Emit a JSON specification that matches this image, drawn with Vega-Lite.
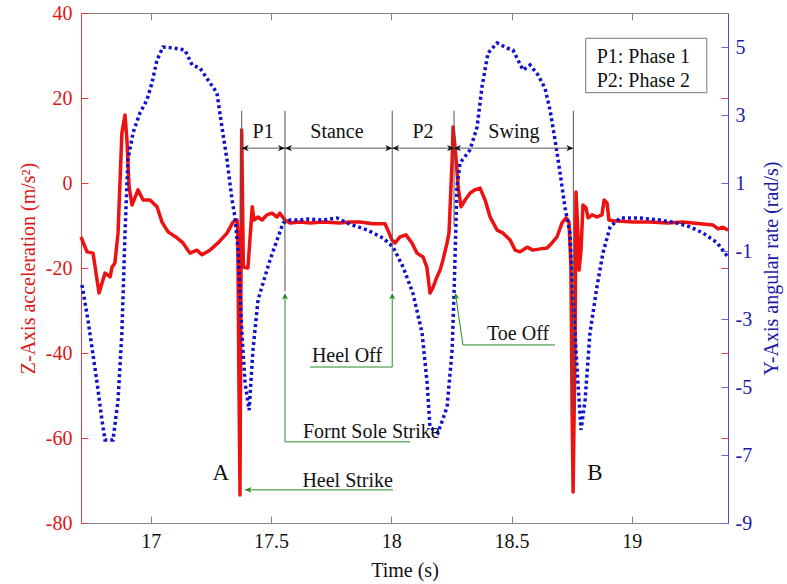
{
  "$schema": "https://vega.github.io/schema/vega-lite/v6.json",
  "width": 647,
  "height": 510,
  "autosize": {"type": "none"},
  "padding": {"left": 81, "top": 13, "right": 59, "bottom": 61},
  "background": "white",
  "config": {
    "font": "Liberation Serif",
    "view": {"stroke": null},
    "axis": {"grid": false, "labelFont": "Liberation Serif", "titleFont": "Liberation Serif", "titleFontWeight": "normal", "labelFontSize": 20, "titleFontSize": 20}
  },
  "datasets": {
    "red": [
      {"t": 16.710, "acc": -12.7}, {"t": 16.735, "acc": -16.2}, {"t": 16.760, "acc": -16.5}, {"t": 16.785, "acc": -25.9},
      {"t": 16.810, "acc": -21.2}, {"t": 16.831, "acc": -22.1}, {"t": 16.839, "acc": -19.8}, {"t": 16.851, "acc": -18.8},
      {"t": 16.864, "acc": -11.8}, {"t": 16.880, "acc": 11.8}, {"t": 16.893, "acc": 16.0}, {"t": 16.901, "acc": 10.1},
      {"t": 16.910, "acc": -0.9}, {"t": 16.922, "acc": -5.2}, {"t": 16.935, "acc": -3.3}, {"t": 16.947, "acc": -1.6},
      {"t": 16.968, "acc": -4.0}, {"t": 16.997, "acc": -4.0}, {"t": 17.026, "acc": -5.6}, {"t": 17.047, "acc": -9.2},
      {"t": 17.072, "acc": -11.5}, {"t": 17.109, "acc": -12.9}, {"t": 17.134, "acc": -14.1}, {"t": 17.163, "acc": -16.5},
      {"t": 17.192, "acc": -15.8}, {"t": 17.213, "acc": -16.9}, {"t": 17.246, "acc": -15.8}, {"t": 17.280, "acc": -14.1},
      {"t": 17.317, "acc": -11.8}, {"t": 17.342, "acc": -9.2}, {"t": 17.359, "acc": -8.7}, {"t": 17.362, "acc": -11.8},
      {"t": 17.366, "acc": -43.3}, {"t": 17.371, "acc": -73.4}, {"t": 17.378, "acc": 12.5}, {"t": 17.385, "acc": -19.8},
      {"t": 17.404, "acc": -20.0}, {"t": 17.422, "acc": -5.6}, {"t": 17.429, "acc": -8.7}, {"t": 17.446, "acc": -8.0},
      {"t": 17.463, "acc": -8.7}, {"t": 17.483, "acc": -7.5}, {"t": 17.504, "acc": -7.1}, {"t": 17.525, "acc": -8.0},
      {"t": 17.537, "acc": -7.1}, {"t": 17.558, "acc": -8.7}, {"t": 17.579, "acc": -9.4}, {"t": 17.621, "acc": -9.2},
      {"t": 17.662, "acc": -9.4}, {"t": 17.716, "acc": -9.2}, {"t": 17.787, "acc": -9.4}, {"t": 17.828, "acc": -9.2},
      {"t": 17.870, "acc": -9.2}, {"t": 17.924, "acc": -9.6}, {"t": 17.974, "acc": -9.6}, {"t": 17.986, "acc": -11.1},
      {"t": 18.003, "acc": -13.4}, {"t": 18.016, "acc": -14.1}, {"t": 18.036, "acc": -12.7}, {"t": 18.061, "acc": -12.2},
      {"t": 18.086, "acc": -14.1}, {"t": 18.107, "acc": -16.5}, {"t": 18.132, "acc": -17.4}, {"t": 18.148, "acc": -19.8},
      {"t": 18.161, "acc": -25.9}, {"t": 18.174, "acc": -24.5}, {"t": 18.190, "acc": -22.1}, {"t": 18.203, "acc": -20.5},
      {"t": 18.215, "acc": -18.1}, {"t": 18.232, "acc": -14.1}, {"t": 18.240, "acc": -11.8}, {"t": 18.253, "acc": 5.4},
      {"t": 18.257, "acc": 13.2}, {"t": 18.269, "acc": 6.1}, {"t": 18.278, "acc": -0.9}, {"t": 18.290, "acc": -5.6},
      {"t": 18.307, "acc": -4.0}, {"t": 18.327, "acc": -2.4}, {"t": 18.348, "acc": -1.6}, {"t": 18.369, "acc": -1.2},
      {"t": 18.390, "acc": -4.0}, {"t": 18.411, "acc": -8.0}, {"t": 18.440, "acc": -11.1}, {"t": 18.465, "acc": -11.8},
      {"t": 18.494, "acc": -13.4}, {"t": 18.515, "acc": -15.8}, {"t": 18.535, "acc": -16.2}, {"t": 18.565, "acc": -15.1},
      {"t": 18.589, "acc": -15.8}, {"t": 18.619, "acc": -15.5}, {"t": 18.648, "acc": -15.3}, {"t": 18.668, "acc": -14.1},
      {"t": 18.689, "acc": -12.7}, {"t": 18.710, "acc": -9.4}, {"t": 18.727, "acc": -8.2}, {"t": 18.739, "acc": -9.2},
      {"t": 18.747, "acc": -19.8}, {"t": 18.752, "acc": -54.1}, {"t": 18.756, "acc": -72.7}, {"t": 18.764, "acc": -38.6},
      {"t": 18.768, "acc": -2.1}, {"t": 18.776, "acc": -11.8}, {"t": 18.781, "acc": -20.5}, {"t": 18.789, "acc": -15.8},
      {"t": 18.797, "acc": -5.2}, {"t": 18.810, "acc": -5.9}, {"t": 18.818, "acc": -8.2}, {"t": 18.835, "acc": -7.5},
      {"t": 18.855, "acc": -8.0}, {"t": 18.876, "acc": -7.5}, {"t": 18.885, "acc": -4.0}, {"t": 18.897, "acc": -4.7},
      {"t": 18.905, "acc": -8.7}, {"t": 18.922, "acc": -8.9}, {"t": 19.005, "acc": -9.2}, {"t": 19.076, "acc": -9.2},
      {"t": 19.147, "acc": -9.4}, {"t": 19.213, "acc": -9.2}, {"t": 19.284, "acc": -9.6}, {"t": 19.338, "acc": -9.9},
      {"t": 19.359, "acc": -10.8}, {"t": 19.379, "acc": -10.4}, {"t": 19.400, "acc": -11.1}
    ],
    "blue": [
      {"t": 16.714, "gyro": -2.0}, {"t": 16.739, "gyro": -3.03}, {"t": 16.777, "gyro": -4.88}, {"t": 16.797, "gyro": -5.97},
      {"t": 16.810, "gyro": -6.56}, {"t": 16.843, "gyro": -6.56}, {"t": 16.864, "gyro": -5.38}, {"t": 16.880, "gyro": -3.41},
      {"t": 16.893, "gyro": -0.47}, {"t": 16.905, "gyro": 1.68}, {"t": 16.926, "gyro": 2.47}, {"t": 16.955, "gyro": 3.06},
      {"t": 16.984, "gyro": 3.44}, {"t": 17.005, "gyro": 3.94}, {"t": 17.026, "gyro": 4.62}, {"t": 17.051, "gyro": 5.0},
      {"t": 17.093, "gyro": 4.97}, {"t": 17.142, "gyro": 4.91}, {"t": 17.172, "gyro": 4.47}, {"t": 17.205, "gyro": 4.38},
      {"t": 17.238, "gyro": 4.03}, {"t": 17.275, "gyro": 3.65}, {"t": 17.296, "gyro": 2.65}, {"t": 17.317, "gyro": 1.68},
      {"t": 17.338, "gyro": 0.5}, {"t": 17.350, "gyro": 0.0}, {"t": 17.363, "gyro": -0.97}, {"t": 17.379, "gyro": -3.41},
      {"t": 17.392, "gyro": -4.88}, {"t": 17.409, "gyro": -5.68}, {"t": 17.425, "gyro": -3.91}, {"t": 17.446, "gyro": -2.44},
      {"t": 17.467, "gyro": -1.94}, {"t": 17.496, "gyro": -1.26}, {"t": 17.525, "gyro": -0.68}, {"t": 17.550, "gyro": -0.18},
      {"t": 17.579, "gyro": -0.09}, {"t": 17.621, "gyro": -0.09}, {"t": 17.650, "gyro": -0.06}, {"t": 17.716, "gyro": -0.09},
      {"t": 17.774, "gyro": -0.03}, {"t": 17.828, "gyro": -0.21}, {"t": 17.899, "gyro": -0.38}, {"t": 17.966, "gyro": -0.62},
      {"t": 18.007, "gyro": -0.88}, {"t": 18.049, "gyro": -1.47}, {"t": 18.090, "gyro": -2.24}, {"t": 18.128, "gyro": -3.41},
      {"t": 18.149, "gyro": -4.88}, {"t": 18.161, "gyro": -6.18}, {"t": 18.194, "gyro": -6.35}, {"t": 18.232, "gyro": -5.59},
      {"t": 18.253, "gyro": -3.91}, {"t": 18.261, "gyro": -2.24}, {"t": 18.273, "gyro": 0.88}, {"t": 18.286, "gyro": 1.59},
      {"t": 18.327, "gyro": 1.97}, {"t": 18.357, "gyro": 2.65}, {"t": 18.377, "gyro": 3.82}, {"t": 18.402, "gyro": 4.82},
      {"t": 18.440, "gyro": 5.12}, {"t": 18.481, "gyro": 4.97}, {"t": 18.506, "gyro": 4.91}, {"t": 18.548, "gyro": 4.32},
      {"t": 18.577, "gyro": 4.47}, {"t": 18.610, "gyro": 4.18}, {"t": 18.639, "gyro": 3.79}, {"t": 18.660, "gyro": 3.15},
      {"t": 18.681, "gyro": 2.26}, {"t": 18.702, "gyro": 1.29}, {"t": 18.722, "gyro": 0.29}, {"t": 18.743, "gyro": -0.47},
      {"t": 18.756, "gyro": -2.44}, {"t": 18.772, "gyro": -4.41}, {"t": 18.789, "gyro": -6.26}, {"t": 18.806, "gyro": -5.38},
      {"t": 18.826, "gyro": -3.41}, {"t": 18.855, "gyro": -2.06}, {"t": 18.880, "gyro": -1.06}, {"t": 18.910, "gyro": -0.29},
      {"t": 18.951, "gyro": -0.03}, {"t": 19.034, "gyro": -0.03}, {"t": 19.117, "gyro": -0.09}, {"t": 19.188, "gyro": -0.18},
      {"t": 19.242, "gyro": -0.29}, {"t": 19.296, "gyro": -0.47}, {"t": 19.355, "gyro": -0.76}, {"t": 19.400, "gyro": -1.18}
    ],
    "vlines": [
      {"t": 17.378, "top": 17, "bottom": -10},
      {"t": 17.558, "top": 17, "bottom": -25.5},
      {"t": 18.004, "top": 17, "bottom": -25.5},
      {"t": 18.261, "top": 17, "bottom": -10},
      {"t": 18.757, "top": 17, "bottom": -54}
    ],
    "spans": [
      {"t1": 17.378, "t2": 17.558, "acc": 8.2, "mid": 17.467, "label": "P1"},
      {"t1": 17.558, "t2": 18.004, "acc": 8.2, "mid": 17.774, "label": "Stance"},
      {"t1": 18.004, "t2": 18.261, "acc": 8.2, "mid": 18.132, "label": "P2"},
      {"t1": 18.261, "t2": 18.757, "acc": 8.2, "mid": 18.510, "label": "Swing"}
    ],
    "greenlines": [
      {"t1": 17.392, "a1": -72.2, "t2": 18.007, "a2": -72.2},
      {"t1": 17.558, "a1": -26.5, "t2": 17.558, "a2": -60.9},
      {"t1": 17.558, "a1": -60.9, "t2": 18.078, "a2": -60.9},
      {"t1": 18.004, "a1": -26.5, "t2": 18.004, "a2": -43.3},
      {"t1": 17.662, "a1": -43.3, "t2": 18.004, "a2": -43.3},
      {"t1": 18.268, "a1": -26.5, "t2": 18.298, "a2": -38.1},
      {"t1": 18.298, "a1": -38.1, "t2": 18.681, "a2": -38.1}
    ],
    "greenUp": [
      {"t": 17.558, "acc": -25.9},
      {"t": 18.004, "acc": -25.9}
    ],
    "greenToe": [{"t": 18.267, "acc": -25.9}],
    "greenLeft": [{"t": 17.392, "acc": -72.2}],
    "notesLeft": [
      {"t": 17.633, "acc": -60.0, "label": "Fornt Sole Strike"},
      {"t": 17.670, "acc": -42.1, "label": "Heel Off"},
      {"t": 18.398, "acc": -36.9, "label": "Toe Off"}
    ],
    "notesRight": [{"t": 18.007, "acc": -71.5, "label": "Heel Strike"}],
    "points": [
      {"t": 17.291, "acc": -68.2, "label": "A"},
      {"t": 18.847, "acc": -68.2, "label": "B"}
    ],
    "legendBox": [{"t1": 18.8085, "t2": 19.312, "a1": 34.05, "a2": 21.25}],
    "legendText": [
      {"t": 18.854, "acc": 28.2, "label": "P1: Phase 1"},
      {"t": 18.854, "acc": 22.5, "label": "P2: Phase 2"}
    ]
  },
  "resolve": {"scale": {"y": "independent"}, "axis": {"x": "independent", "y": "independent"}},
  "layer": [
    {
      "data": {"name": "red"},
      "mark": {"type": "line", "color": "#ee1111", "strokeWidth": 3.5, "strokeJoin": "round"},
      "encoding": {
        "x": {"field": "t", "type": "quantitative", "scale": {"domain": [16.71, 19.4], "nice": false, "zero": false},
          "axis": {"orient": "bottom", "values": [17, 17.5, 18, 18.5, 19], "format": "~g", "title": "Time (s)", "domainColor": "#888888", "tickColor": "#888888", "tickSize": -7, "labelPadding": 15, "labelColor": "#111111", "titleColor": "#111111", "titlePadding": 9}},
        "y": {"field": "acc", "type": "quantitative", "scale": {"domain": [-80, 40], "nice": false, "zero": false},
          "axis": {"orient": "left", "values": [-80, -60, -40, -20, 0, 20, 40], "labelExpr": "'' + datum.value", "title": "Z-Axis acceleration (m/s²)", "domainColor": "#e04040", "tickColor": "#e04040", "tickSize": -7, "labelPadding": 16, "labelColor": "#e01515", "titleColor": "#e01515", "titlePadding": 7}}
      }
    },
    {
      "data": {"name": "blue"},
      "mark": {"type": "line", "color": "#1010d0", "strokeWidth": 3.5, "strokeDash": [3, 3], "strokeCap": "butt"},
      "encoding": {
        "x": {"field": "t", "type": "quantitative", "scale": {"domain": [16.71, 19.4], "nice": false, "zero": false},
          "axis": {"orient": "top", "values": [17, 17.5, 18, 18.5, 19], "labels": false, "title": null, "domainColor": "#888888", "tickColor": "#888888", "tickSize": -7}},
        "y": {"field": "gyro", "type": "quantitative", "scale": {"domain": [-9, 6], "nice": false, "zero": false},
          "axis": {"orient": "right", "values": [-9, -7, -5, -3, -1, 1, 3, 5], "labelExpr": "'' + datum.value", "title": "Y-Axis angular rate (rad/s)", "titleAngle": 270, "titleBaseline": "top", "domainColor": "#4a4ad8", "tickColor": "#6a6ae0", "tickSize": -7, "labelPadding": 14, "labelColor": "#1a1aa8", "titleColor": "#1a1aa8", "titlePadding": 10}}
      }
    },
    {
      "data": {"name": "vlines"},
      "mark": {"type": "rule", "color": "#555555", "strokeWidth": 1},
      "encoding": {
        "x": {"field": "t", "type": "quantitative", "scale": {"domain": [16.71, 19.4], "nice": false, "zero": false}, "axis": null},
        "y": {"field": "top", "type": "quantitative", "scale": {"domain": [-80, 40], "nice": false, "zero": false}, "axis": null},
        "y2": {"field": "bottom"}
      }
    },
    {
      "data": {"name": "spans"},
      "mark": {"type": "rule", "color": "#555555", "strokeWidth": 1},
      "encoding": {
        "x": {"field": "t1", "type": "quantitative", "scale": {"domain": [16.71, 19.4], "nice": false, "zero": false}, "axis": null},
        "x2": {"field": "t2"},
        "y": {"field": "acc", "type": "quantitative", "scale": {"domain": [-80, 40], "nice": false, "zero": false}, "axis": null}
      }
    },
    {
      "data": {"name": "spans"},
      "mark": {"type": "point", "shape": "M0,0L-1,-0.45L-0.7,0L-1,0.45Z", "filled": true, "color": "#111111", "size": 200, "angle": 180, "opacity": 1},
      "encoding": {
        "x": {"field": "t1", "type": "quantitative", "scale": {"domain": [16.71, 19.4], "nice": false, "zero": false}, "axis": null},
        "y": {"field": "acc", "type": "quantitative", "scale": {"domain": [-80, 40], "nice": false, "zero": false}, "axis": null}
      }
    },
    {
      "data": {"name": "spans"},
      "mark": {"type": "point", "shape": "M0,0L-1,-0.45L-0.7,0L-1,0.45Z", "filled": true, "color": "#111111", "size": 200, "angle": 0, "opacity": 1},
      "encoding": {
        "x": {"field": "t2", "type": "quantitative", "scale": {"domain": [16.71, 19.4], "nice": false, "zero": false}, "axis": null},
        "y": {"field": "acc", "type": "quantitative", "scale": {"domain": [-80, 40], "nice": false, "zero": false}, "axis": null}
      }
    },
    {
      "data": {"name": "spans"},
      "mark": {"type": "text", "fontSize": 20, "color": "#111111", "baseline": "middle", "align": "center", "dy": -16},
      "encoding": {
        "x": {"field": "mid", "type": "quantitative", "scale": {"domain": [16.71, 19.4], "nice": false, "zero": false}, "axis": null},
        "y": {"field": "acc", "type": "quantitative", "scale": {"domain": [-80, 40], "nice": false, "zero": false}, "axis": null},
        "text": {"field": "label"}
      }
    },
    {
      "data": {"name": "greenlines"},
      "mark": {"type": "rule", "color": "#2a8a2a", "strokeWidth": 1},
      "encoding": {
        "x": {"field": "t1", "type": "quantitative", "scale": {"domain": [16.71, 19.4], "nice": false, "zero": false}, "axis": null},
        "x2": {"field": "t2"},
        "y": {"field": "a1", "type": "quantitative", "scale": {"domain": [-80, 40], "nice": false, "zero": false}, "axis": null},
        "y2": {"field": "a2"}
      }
    },
    {
      "data": {"name": "greenUp"},
      "mark": {"type": "point", "shape": "M0,0L-1,-0.45L-0.7,0L-1,0.45Z", "filled": true, "color": "#1e8a1e", "size": 170, "angle": 270, "opacity": 1},
      "encoding": {
        "x": {"field": "t", "type": "quantitative", "scale": {"domain": [16.71, 19.4], "nice": false, "zero": false}, "axis": null},
        "y": {"field": "acc", "type": "quantitative", "scale": {"domain": [-80, 40], "nice": false, "zero": false}, "axis": null}
      }
    },
    {
      "data": {"name": "greenToe"},
      "mark": {"type": "point", "shape": "M0,0L-1,-0.45L-0.7,0L-1,0.45Z", "filled": true, "color": "#1e8a1e", "size": 170, "angle": 262, "opacity": 1},
      "encoding": {
        "x": {"field": "t", "type": "quantitative", "scale": {"domain": [16.71, 19.4], "nice": false, "zero": false}, "axis": null},
        "y": {"field": "acc", "type": "quantitative", "scale": {"domain": [-80, 40], "nice": false, "zero": false}, "axis": null}
      }
    },
    {
      "data": {"name": "greenLeft"},
      "mark": {"type": "point", "shape": "M0,0L-1,-0.45L-0.7,0L-1,0.45Z", "filled": true, "color": "#1e8a1e", "size": 170, "angle": 180, "opacity": 1},
      "encoding": {
        "x": {"field": "t", "type": "quantitative", "scale": {"domain": [16.71, 19.4], "nice": false, "zero": false}, "axis": null},
        "y": {"field": "acc", "type": "quantitative", "scale": {"domain": [-80, 40], "nice": false, "zero": false}, "axis": null}
      }
    },
    {
      "data": {"name": "notesLeft"},
      "mark": {"type": "text", "fontSize": 20, "color": "#111111", "baseline": "alphabetic", "align": "left"},
      "encoding": {
        "x": {"field": "t", "type": "quantitative", "scale": {"domain": [16.71, 19.4], "nice": false, "zero": false}, "axis": null},
        "y": {"field": "acc", "type": "quantitative", "scale": {"domain": [-80, 40], "nice": false, "zero": false}, "axis": null},
        "text": {"field": "label"}
      }
    },
    {
      "data": {"name": "notesRight"},
      "mark": {"type": "text", "fontSize": 20, "color": "#111111", "baseline": "alphabetic", "align": "right"},
      "encoding": {
        "x": {"field": "t", "type": "quantitative", "scale": {"domain": [16.71, 19.4], "nice": false, "zero": false}, "axis": null},
        "y": {"field": "acc", "type": "quantitative", "scale": {"domain": [-80, 40], "nice": false, "zero": false}, "axis": null},
        "text": {"field": "label"}
      }
    },
    {
      "data": {"name": "points"},
      "mark": {"type": "text", "fontSize": 23, "color": "#111111", "baseline": "middle", "align": "center"},
      "encoding": {
        "x": {"field": "t", "type": "quantitative", "scale": {"domain": [16.71, 19.4], "nice": false, "zero": false}, "axis": null},
        "y": {"field": "acc", "type": "quantitative", "scale": {"domain": [-80, 40], "nice": false, "zero": false}, "axis": null},
        "text": {"field": "label"}
      }
    },
    {
      "data": {"name": "legendBox"},
      "mark": {"type": "rect", "fill": "white", "stroke": "#777777", "strokeWidth": 1},
      "encoding": {
        "x": {"field": "t1", "type": "quantitative", "scale": {"domain": [16.71, 19.4], "nice": false, "zero": false}, "axis": null},
        "x2": {"field": "t2"},
        "y": {"field": "a1", "type": "quantitative", "scale": {"domain": [-80, 40], "nice": false, "zero": false},
          "axis": {"orient": "right", "values": [-60, -40, -20, 20], "labels": false, "domain": false, "title": null, "tickColor": "#e04040", "tickSize": -7}},
        "y2": {"field": "a2"}
      }
    },
    {
      "data": {"name": "legendText"},
      "mark": {"type": "text", "fontSize": 20, "color": "#111111", "baseline": "alphabetic", "align": "left"},
      "encoding": {
        "x": {"field": "t", "type": "quantitative", "scale": {"domain": [16.71, 19.4], "nice": false, "zero": false}, "axis": null},
        "y": {"field": "acc", "type": "quantitative", "scale": {"domain": [-80, 40], "nice": false, "zero": false}, "axis": null},
        "text": {"field": "label"}
      }
    }
  ]
}
